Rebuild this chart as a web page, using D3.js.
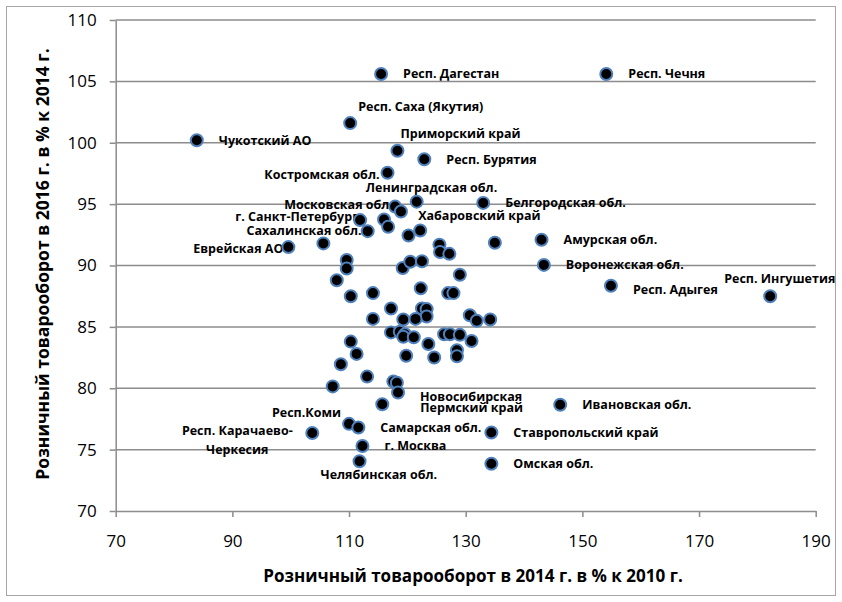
<!DOCTYPE html>
<html>
<head>
<meta charset="utf-8">
<script src="https://cdn.jsdelivr.net/npm/d3@7"></script>
<style>
    body { margin: 0; background: #fff; }
</style>
</head>
<body>
<svg id="chart" width="842" height="602"></svg>
<script>

// Region names ('' = point without a label)
const regions = [
    'Респ. Дагестан', 'Респ. Чечня', 'Респ. Саха (Якутия)', 'Чукотский АО', 'Приморский край',
    'Респ. Бурятия', 'Костромская обл.', 'Ленинградская обл.', 'Белгородская обл.', '',
    'Московская обл.', 'г. Санкт-Петербург', '', '', 'Сахалинская обл.',
    '', 'Хабаровский край', '', 'Еврейская АО', '',
    '', '', '', 'Амурская обл.', 'Воронежская обл.',
    'Респ. Адыгея', 'Респ. Ингушетия', '', '', '',
    '', '', '', '', '',
    '', '', '', '', '',
    '', '', '', '', '',
    '', '', '', '', '',
    '', '', '', '', '',
    '', '', '', '', '',
    '', '', '', '', '',
    '', '', '', '', '',
    'Новосибирская', 'Пермский край', 'Респ.Коми', 'Самарская обл.', 'Респ. Карачаево-\nЧеркесия',
    'Ставропольский край', 'г. Москва', 'Челябинская обл.', 'Омская обл.', 'Ивановская обл.'
];

// Розничный товарооборот в 2014 г. в % к 2010 г.
const trade2014 = [
    115.5, 154.1, 110.2, 83.9, 118.3,
    122.9, 116.6, 121.6, 133.0, 117.9,
    118.9, 111.9, 116.0, 116.7, 113.2,
    120.2, 122.2, 105.6, 99.6, 125.5,
    125.6, 127.2, 135.0, 143.0, 143.4,
    154.9, 182.2, 109.6, 109.6, 119.2,
    120.5, 122.5, 107.9, 129.0, 110.3,
    114.1, 122.3, 127.0, 127.9, 117.2,
    122.5, 123.3, 123.3, 114.1, 119.3,
    121.4, 130.7, 131.9, 134.2, 117.2,
    118.7, 119.6, 119.3, 121.1, 126.3,
    127.3, 129.0, 131.0, 123.6, 110.3,
    111.3, 128.5, 128.5, 119.8, 124.6,
    108.6, 113.1, 117.6, 118.2, 107.2,
    118.4, 115.7, 110.0, 111.6, 103.7,
    134.4, 112.3, 111.8, 134.4, 146.2
];

// Розничный товарооборот в 2016 г. в % к 2014 г.
const trade2016 = [
    105.6, 105.6, 101.6, 100.2, 99.35,
    98.65, 97.56, 95.2, 95.1, 94.8,
    94.4, 93.7, 93.75, 93.15, 92.8,
    92.45, 92.85, 91.8, 91.5, 91.7,
    91.1, 90.95, 91.85, 92.1, 90.05,
    88.35, 87.5, 90.45, 89.75, 89.8,
    90.3, 90.35, 88.8, 89.25, 87.5,
    87.75, 88.15, 87.75, 87.75, 86.5,
    86.5, 86.45, 85.85, 85.65, 85.6,
    85.65, 85.95, 85.5, 85.6, 84.55,
    84.6, 84.4, 84.2, 84.15, 84.4,
    84.4, 84.35, 83.85, 83.6, 83.8,
    82.8, 83.1, 82.6, 82.65, 82.5,
    81.95, 80.95, 80.55, 80.45, 80.15,
    79.65, 78.7, 77.1, 76.8, 76.35,
    76.4, 75.3, 74.05, 73.85, 78.65
];

const xTicks = [70, 90, 110, 130, 150, 170, 190];
const yTicks = [70, 75, 80, 85, 90, 95, 100, 105, 110];

const xTitle = 'Розничный товарооборот в 2014 г. в % к 2010 г.';
const yTitle = 'Розничный товарооборот в 2016 г. в % к 2014 г.';

// label placement relative to the marker (default: to the right)
const labelLayout = {
    'Респ. Саха (Якутия)': { dx: 8, dy: -15, anchor: 'start' },
    'Приморский край': { dx: 3, dy: -16, anchor: 'start' },
    'Костромская обл.': { dx: -8, dy: 3, anchor: 'end' },
    'Ленинградская обл.': { dx: -51, dy: -13, anchor: 'start' },
    'Московская обл.': { dx: -8, dy: -6, anchor: 'end' },
    'г. Санкт-Петербург': { dx: -2, dy: -2, anchor: 'end' },
    'Сахалинская обл.': { dx: -6, dy: 1, anchor: 'end' },
    'Еврейская АО': { dx: -5, dy: 3, anchor: 'end' },
    'Хабаровский край': { dx: -2, dy: -14, anchor: 'start' },
    'Респ. Ингушетия': { dx: -46, dy: -17, anchor: 'start' },
    'Респ. Адыгея': { dx: 22, dy: 5, anchor: 'start' },
    'Новосибирская': { dx: 22, dy: 5, anchor: 'start' },
    'Пермский край': { dx: 38, dy: 4, anchor: 'start' },
    'Респ.Коми': { dx: -8, dy: -10, anchor: 'end' },
    'Респ. Карачаево-\nЧеркесия': { dx: -75, dy: -1, anchor: 'middle' },
    'Челябинская обл.': { dx: -39, dy: 14, anchor: 'start' }
};
const defaultLayout = { dx: 22, dy: 1, anchor: 'start' };

const opt = {
    width: 842,
    height: 602,
    plot: { left: 115.7, right: 815.7, top: 20, bottom: 511 },
    grid_color: '#8c8c8c',
    marker: { r: 6, fill: '#000', stroke: '#4f81bd', width: 2 },
    tick_font: { font: 'Open Sans', size: 17, color: '#000' },
    label_font: { font: 'Open Sans', size: 12.5, weight: 700 },
    title_font: { font: 'Open Sans', weight: 700 }
};

const svg = d3.select('#chart');

function setBackground(svg, width, height) {
    svg.append('rect')
        .attr('x', 0)
        .attr('y', 0)
        .attr('width', width)
        .attr('height', height)
        .attr('fill', '#fff');
    svg.append('rect')
        .attr('x', 6.5)
        .attr('y', 6.5)
        .attr('width', width - 13)
        .attr('height', height - 13)
        .attr('fill', 'none')
        .attr('stroke', '#a6a6a6');
}

// fit a title to a target width by adjusting its font size
function fitText(node, target) {
    let size = 16;
    d3.select(node).style('font-size', size + 'px');
    const len = node.getComputedTextLength();
    size = size * target / len;
    d3.select(node).style('font-size', size.toFixed(2) + 'px');
}

setBackground(svg, opt.width, opt.height);

const xScale = d3.scaleLinear()
    .domain([70, 190])
    .range([opt.plot.left, opt.plot.right]);

const yScale = d3.scaleLinear()
    .domain([70, 110])
    .range([opt.plot.bottom, opt.plot.top]);

// horizontal grid lines
svg.append('g')
    .selectAll('line')
    .data(yTicks.filter(d => d != 70))
    .join('line')
    .attr('x1', opt.plot.left)
    .attr('x2', opt.plot.right)
    .attr('y1', d => yScale(d))
    .attr('y2', d => yScale(d))
    .attr('stroke', opt.grid_color)
    .attr('stroke-width', 1.5);

// axes
svg.append('g')
    .attr('id', 'x-axis')
    .attr('transform', `translate(0,${opt.plot.bottom})`)
    .call(d3.axisBottom(xScale).tickValues(xTicks).tickSizeInner(6).tickSizeOuter(0).tickPadding(14));

svg.append('g')
    .attr('id', 'y-axis')
    .attr('transform', `translate(${opt.plot.left},0)`)
    .call(d3.axisLeft(yScale).tickValues(yTicks).tickSizeInner(6).tickSizeOuter(0).tickPadding(13));

svg.selectAll('#x-axis path, #y-axis path, #x-axis line, #y-axis line')
    .attr('stroke', opt.grid_color)
    .attr('stroke-width', 1.5);

svg.selectAll('#x-axis text, #y-axis text')
    .style('font-family', opt.tick_font.font)
    .style('font-size', opt.tick_font.size + 'px')
    .attr('fill', opt.tick_font.color);

svg.selectAll('#x-axis text').attr('dy', '0.95em');

// axis titles
const xt = svg.append('text')
    .attr('x', 473)
    .attr('y', 577)
    .attr('text-anchor', 'middle')
    .attr('dominant-baseline', 'middle')
    .style('font-family', opt.title_font.font)
    .style('font-weight', opt.title_font.weight)
    .text(xTitle);
fitText(xt.node(), 420);

const yt = svg.append('text')
    .attr('transform', 'translate(44,264) rotate(-90)')
    .attr('text-anchor', 'middle')
    .attr('dominant-baseline', 'middle')
    .style('font-family', opt.title_font.font)
    .style('font-weight', opt.title_font.weight)
    .text(yTitle);
fitText(yt.node(), 432);

// data
const points = regions.map((name, i) => ({ name: name, x: trade2014[i], y: trade2016[i] }));

// labels (markers are drawn on top of them)
const labels = svg.append('g')
    .selectAll('text')
    .data(points.filter(d => d.name != ''))
    .join('text')
    .attr('text-anchor', d => (labelLayout[d.name] || defaultLayout).anchor)
    .style('font-family', opt.label_font.font)
    .style('font-size', opt.label_font.size + 'px')
    .style('font-weight', opt.label_font.weight)
    .attr('fill', '#000');

labels.each(function (d) {
    const lay = labelLayout[d.name] || defaultLayout;
    const lines = d.name.split('\n');
    const cx = xScale(d.x) + lay.dx;
    const cy = yScale(d.y) + lay.dy;
    d3.select(this).selectAll('tspan')
        .data(lines)
        .join('tspan')
        .attr('x', cx)
        .attr('y', (l, i) => cy + i * 19)
        .attr('dominant-baseline', 'middle')
        .text(l => l);
});

svg.append('g')
    .selectAll('circle')
    .data(points)
    .join('circle')
    .attr('cx', d => xScale(d.x))
    .attr('cy', d => yScale(d.y))
    .attr('r', opt.marker.r)
    .attr('fill', opt.marker.fill)
    .attr('stroke', opt.marker.stroke)
    .attr('stroke-width', opt.marker.width);

</script>
</body>
</html>
